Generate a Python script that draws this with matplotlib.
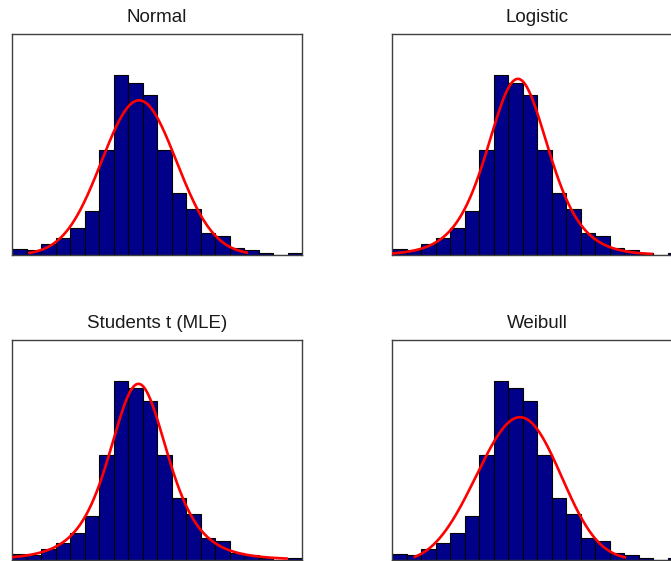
import math
import numpy as np
import matplotlib
matplotlib.use("Agg")
import matplotlib.pyplot as plt

# ---- data ----
bin_edges = [-5.0, -4.5, -4.0, -3.5, -3.0, -2.5, -2.0, -1.5, -1.0, -0.5, 0.0,
             0.5, 1.0, 1.5, 2.0, 2.5, 3.0, 3.5, 4.0, 4.5, 5.0]
counts = [2.4, 2.0, 4.4, 6.8, 11.0, 17.7, 42.0, 72.0, 69.0, 64.0,
          42.0, 25.0, 18.4, 8.8, 7.7, 3.0, 2.0, 1.0, 0.0, 1.0]

titles = ["Normal", "Logistic", "Students t (MLE)", "Weibull"]

# fitted parameters per distribution
normal_params = {"mu": -0.62, "sigma": 1.29}
logistic_params = {"mu": -0.66, "s": 0.71}
t_params = {"mu": -0.64, "s": 1.06, "nu": 4.0}
weibull_params = {"loc": -4.99, "lam": 4.82, "k": 3.6}

# x-range over which each fitted curve is drawn
curve_ranges = {
    "Normal": (-4.40, 3.09),
    "Logistic": (-5.0, 3.95),
    "Students t (MLE)": (-5.0, 4.47),
    "Weibull": (-4.21, 3.03),
}


def pdf(name, x):
    if name == "Normal":
        p = normal_params
        return np.exp(-0.5 * ((x - p["mu"]) / p["sigma"]) ** 2) / (p["sigma"] * math.sqrt(2 * math.pi))
    if name == "Logistic":
        p = logistic_params
        z = np.exp(-(x - p["mu"]) / p["s"])
        return z / (p["s"] * (1 + z) ** 2)
    if name == "Students t (MLE)":
        p = t_params
        nu = p["nu"]
        c = math.gamma((nu + 1) / 2) / (math.gamma(nu / 2) * math.sqrt(nu * math.pi) * p["s"])
        return c * (1 + ((x - p["mu"]) / p["s"]) ** 2 / nu) ** (-(nu + 1) / 2)
    p = weibull_params
    u = np.clip((x - p["loc"]) / p["lam"], 0, None)
    return (p["k"] / p["lam"]) * u ** (p["k"] - 1) * np.exp(-u ** p["k"])


W, H = 671, 561
fig = plt.figure(figsize=(W / 100, H / 100), dpi=100)
fig.patch.set_facecolor("white")

# axes boxes in pixels: (left, top, right, bottom)
boxes = [(12, 34, 302, 255), (392, 34, 682, 255),
         (12, 340, 302, 560), (392, 340, 682, 560)]

edges = np.array(bin_edges)
widths = np.diff(edges)
lefts = edges[:-1]
total_area = float(np.sum(np.array(counts) * widths))

for name, (l, t, r, b) in zip(titles, boxes):
    ax = fig.add_axes([l / W, 1 - b / H, (r - l) / W, (b - t) / H])
    ax.bar(lefts, counts, width=widths, align="edge", color="#000088",
           edgecolor="black", linewidth=0.8, zorder=2)
    x0, x1 = curve_ranges[name]
    xs = np.linspace(x0, x1, 400)
    ax.plot(xs, pdf(name, xs) * total_area, color="red", linewidth=1.9, zorder=3)
    ax.set_xlim(edges[0], edges[-1])
    ax.set_ylim(0, 88.4)
    ax.set_xticks([])
    ax.set_yticks([])
    for sp in ax.spines.values():
        sp.set_color("#404040")
        sp.set_linewidth(1.0)
    ax.set_title(name, fontsize=13.5, family=["Liberation Sans", "DejaVu Sans"],
                 color="#1a1a1a", pad=9)

fig.savefig("out.png", dpi=100)
